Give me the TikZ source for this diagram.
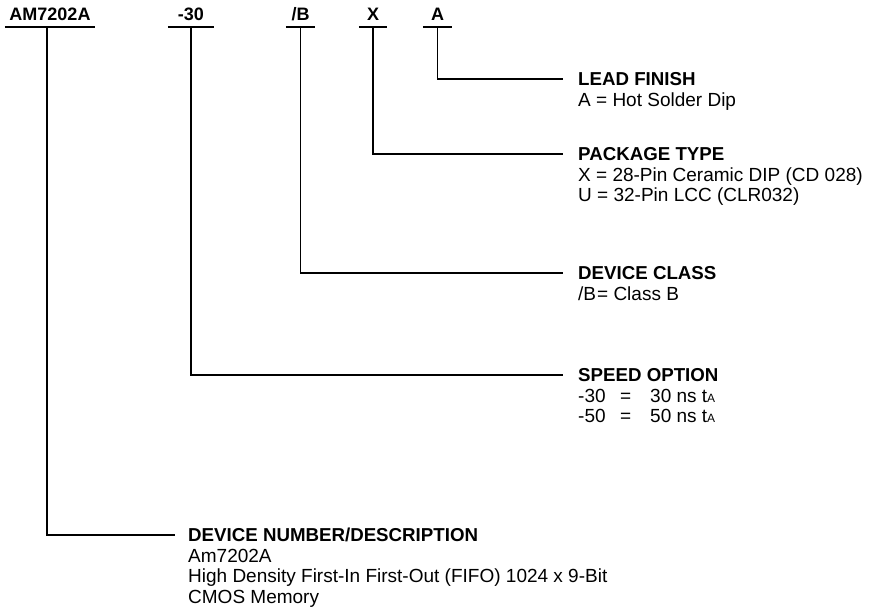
\documentclass[tikz,border=0pt]{standalone}
\usepackage{fontspec}
\setmainfont{Liberation Sans}
\usetikzlibrary{positioning}

\tikzset{
    codelabel/.style={font=\fontsize{18}{20}\selectfont\bfseries,
        anchor=south, inner xsep=0pt, inner ysep=6pt, text depth=0pt},
    fieldtitle/.style={font=\fontsize{18.7}{20}\selectfont\bfseries,
        anchor=west, inner sep=0pt, text depth=0pt},
    fieldline/.style={font=\fontsize{19}{20}\selectfont,
        anchor=base west, inner sep=0pt},
    leader/.style={line width=1.8pt}
}

\begin{document}
\begin{tikzpicture}[x=1pt, y=-1pt, node distance=20.5pt]
    \useasboundingbox (0,0) rectangle (874,608);
    % ordering code
    \node[codelabel, minimum width=90pt] (cAM) at (50,27) {AM7202A};
    \node[codelabel, minimum width=46pt] (cSpeed) at (191,27) {-30};
    \node[codelabel, minimum width=29pt] (cClass) at (300.5,27) {/B};
    \node[codelabel, minimum width=28pt] (cPkg) at (373,27) {X};
    \node[codelabel, minimum width=29pt] (cLead) at (437.5,27) {A};
    \foreach \c in {cAM, cSpeed, cClass, cPkg, cLead}
        \draw[leader] (\c.south west) -- (\c.south east);

    % field titles
    \node[fieldtitle] (leadT) at (578,79) {LEAD FINISH};
    \node[fieldtitle] (pkgT) at (578,154) {PACKAGE TYPE};
    \node[fieldtitle] (classT) at (578,273) {DEVICE CLASS};
    \node[fieldtitle] (speedT) at (578,375) {SPEED OPTION};
    \node[fieldtitle] (devT) at (188,535) {DEVICE NUMBER/DESCRIPTION};

    % field values
    \node[fieldline, below=of leadT.south west, anchor=base west] (leadA) {A = Hot Solder Dip};
    \node[fieldline, below=of pkgT.south west, anchor=base west] (pkgX) {X = 28-Pin Ceramic DIP (CD 028)};
    \node[fieldline, below=of pkgX.base west, anchor=base west] (pkgU) {U = 32-Pin LCC (CLR032)};
    \node[fieldline, below=of classT.south west, anchor=base west] (classB) {/B\kern1pt=\ Class B};
    \node[fieldline, below=of speedT.south west, anchor=base west] (speedA)
        {\makebox[42pt][l]{-30}\makebox[30pt][l]{=}30 ns t{\fontsize{12}{12}\selectfont A}};
    \node[fieldline, below=of speedA.base west, anchor=base west] (speedB)
        {\makebox[42pt][l]{-50}\makebox[30pt][l]{=}50 ns t{\fontsize{12}{12}\selectfont A}};
    \node[fieldline, below=of devT.south west, anchor=base west] (devName) {Am7202A};
    \node[fieldline, below=of devName.base west, anchor=base west] (devDesc) {High Density First-In First-Out (FIFO) 1024 x 9-Bit};
    \node[fieldline, below=of devDesc.base west, anchor=base west] (devMem) {CMOS Memory};

    % leaders
    \draw[leader] (cLead.south) |- ([xshift=-15pt]leadT.west);
    \draw[leader] (cPkg.south) |- ([xshift=-15pt]pkgT.west);
    \draw[leader] (cClass.south) |- ([xshift=-15pt]classT.west);
    \draw[leader] (cSpeed.south) |- ([xshift=-15pt]speedT.west);
    \draw[leader] ([xshift=-3pt]cAM.south) |- ([xshift=-13pt]devT.west);
\end{tikzpicture}
\end{document}
